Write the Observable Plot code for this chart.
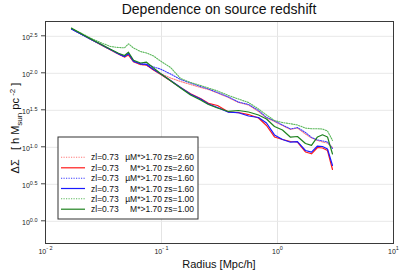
<!DOCTYPE html>
<html>
<head>
<meta charset="utf-8">
<script src="https://cdn.jsdelivr.net/npm/d3@7"></script>
<script src="https://cdn.jsdelivr.net/npm/@observablehq/plot@0.6"></script>
<style>
  html, body { margin: 0; padding: 0; background: #fff; }
  svg text { white-space: pre; }
</style>
</head>
<body>
<div id="chart"></div>
<script>
// ---- data ----
const radius = [0.01675, 0.0200, 0.0244, 0.0298, 0.0363, 0.0426, 0.0480, 0.0519, 0.0574, 0.0659,
  0.0743, 0.0854, 0.0980, 0.1197, 0.146, 0.178, 0.217, 0.254, 0.304, 0.378,
  0.461, 0.563, 0.686, 0.804, 0.942, 1.104, 1.294, 1.486, 1.742, 1.963,
  2.213, 2.443, 2.698, 2.979];

const redDotted = [398, 343, 289, 244, 207, 181, 165, 176, 143, 131,
  128, 111.5, 99.4, 86.4, 77.5, 70.6, 64.3, 60.4, 54.2, 47.1,
  40.3, 37.3, 30.5, 24.9, 22.3, 19.7, 17.4, 18.2, 15.1, 13.4,
  12.4, 11.79, 11.43, 9.94];
const redSolid = [399, 344, 290, 245, 208, 182, 166, 178, 144, 132,
  129.5, 111, 96.9, 79.2, 64.3, 52.8, 45.6, 39.3, 36.7, 30.0,
  29.5, 27.7, 24.9, 19.7, 13.8, 12.75, 11.98, 11.79, 8.64, 8.17,
  9.94, 9.78, 9.05, 5.01];
const blueDotted = [396, 342, 289, 246, 209, 183, 168, 184, 145, 134,
  133.6, 121.7, 114.3, 97.8, 82.5, 73.9, 66.3, 61.4, 55.0, 47.8,
  40.9, 37.9, 31.4, 25.3, 22.7, 20.0, 17.7, 18.5, 15.85, 13.6,
  12.55, 12.2, 11.79, 9.63];
const blueSolid = [396.8, 342.9, 290, 246.5, 209.7, 184.0, 168.7, 185.2, 145.7, 134.4,
  131.5, 112.6, 98.4, 79.9, 64.3, 52.2, 44.9, 38.5, 34.5, 29.8,
  29.3, 26.5, 25.3, 21.3, 14.7, 12.75, 11.72, 11.9, 9.05, 8.59,
  10.4, 10.25, 9.48, 5.68];
const greenDotted = [409.4, 352.6, 299.9, 260.8, 230.2, 223.1, 221.1, 250.4, 219.8, 197.0,
  188.1, 171.3, 146.6, 119.8, 85.1, 75.1, 68.4, 63.3, 57.7, 50.1,
  44.9, 40.3, 32.9, 27.3, 23.0, 21.6, 20.8, 20.0, 18.2, 17.8,
  17.8, 17.7, 16.6, 12.4];
const greenSolid = [405.6, 348.3, 293.5, 248.8, 211.7, 186.9, 174.0, 192.8, 149.9, 137.8,
  141.3, 117.9, 99.4, 79.2, 63.3, 50.9, 43.6, 37.9, 34.0, 30.5,
  31.4, 30.0, 27.3, 24.1, 19.1, 17.1, 13.7, 14.0, 11.26, 10.6,
  13.8, 14.75, 13.8, 8.12];

const lensLabel = "zl=0.73";
const massLabels = ["\u00b5M*>1.70", "M*>1.70", "\u00b5M*>1.70", "M*>1.70", "\u00b5M*>1.70", "M*>1.70"];
const sourceLabels = ["zs=2.60", "zs=2.60", "zs=1.60", "zs=1.60", "zs=1.00", "zs=1.00"];

const xTicks = [0.01, 0.1, 1, 10];
const xTickExponents = ["-2", "-1", "0", "1"];
const yTickExponents = [0, 0.5, 1, 1.5, 2, 2.5];
const yTickExponentLabels = ["0.0", "0.5", "1.0", "1.5", "2.0", "2.5"];

const titleText = "Dependence on source redshift";
const xLabelText = "Radius [Mpc/h]";

// ---- series styling ----
const seriesValues = [redDotted, redSolid, blueDotted, blueSolid, greenDotted, greenSolid];
const styles = [
  {stroke: "#ff7a7a", dash: "1.2,1.3", width: 1.1},
  {stroke: "#ff1a1a", dash: null, width: 1.2},
  {stroke: "#3c3cff", dash: "1.2,1.3", width: 1.1},
  {stroke: "#1a1aff", dash: null, width: 1.2},
  {stroke: "#5cb85c", dash: "1.2,1.3", width: 1.1},
  {stroke: "#1e821e", dash: null, width: 1.2}
];

const tables = seriesValues.map((vals, s) => radius.map((r, i) => ({r, v: vals[i], s})));
const yTicks = yTickExponents.map(e => Math.pow(10, e));

const lineMarks = tables.map((t, s) => Plot.line(t, {
  x: "r", y: "v",
  stroke: styles[s].stroke,
  strokeWidth: styles[s].width,
  strokeDasharray: styles[s].dash || undefined
}));

const chart = Plot.plot({
  width: 407, height: 271,
  marginLeft: 45, marginRight: 14, marginTop: 21, marginBottom: 28,
  style: {fontFamily: "'Liberation Sans', Arial, sans-serif", fontSize: "7px", background: "#fff", color: "#222"},
  x: {type: "log", domain: [0.01, 10], axis: null},
  y: {type: "log", domain: [Math.pow(10, -0.3), Math.pow(10, 2.7)], axis: null},
  marks: [
    Plot.gridX(xTicks, {stroke: "#e4e4e4", strokeOpacity: 1}),
    Plot.gridY(yTicks, {stroke: "#e8e8e8", strokeOpacity: 1}),
    ...lineMarks,
    Plot.frame({stroke: "#3a3a3a", strokeWidth: 1}),
    Plot.text(xTicks, {x: d => d, frameAnchor: "bottom", dy: 10, fill: "#222",
      text: (d, i) => "10^" + xTickExponents[i]}),
    Plot.text(yTicks, {y: d => d, frameAnchor: "left", dx: -8, dy: 1, textAnchor: "end", fill: "#222",
      text: (d, i) => "10^" + yTickExponentLabels[i]})
  ]
});

document.getElementById("chart").appendChild(chart);
const svg = d3.select(chart);

// short outward tick marks on the left edge
const yScale = chart.scale("y");
const tickG = svg.append("g").attr("stroke", "#444");
yTicks.forEach(v => {
  const y = yScale.apply(v);
  tickG.append("line").attr("x1", 41).attr("x2", 45).attr("y1", y).attr("y2", y);
});

// superscript tick labels
svg.selectAll("text").each(function() {
  const t = d3.select(this);
  const parts = t.text().split("^");
  if (parts.length < 2) return;
  t.text("");
  t.append("tspan").text(parts[0]);
  t.append("tspan").attr("dy", "-0.55em").attr("font-size", "5.5px")
    .text(parts[1].replace("-", "- ").replace("\u2212", "- "));
});

// title
svg.append("text").attr("x", 219).attr("y", 14).attr("text-anchor", "middle")
  .attr("font-size", 14).attr("fill", "#111").text(titleText);

// x label
svg.append("text").attr("x", 219).attr("y", 268).attr("text-anchor", "middle")
  .attr("font-size", 11).attr("fill", "#111").text(xLabelText);

// y label
const yl = svg.append("text").attr("transform", "translate(19,128) rotate(-90)")
  .attr("text-anchor", "middle").attr("font-size", 11).attr("fill", "#111");
yl.append("tspan").text("\u0394\u03a3   [ h M");
yl.append("tspan").attr("dy", 3).attr("font-size", 8).text("sun");
yl.append("tspan").attr("dy", -3).text(" pc");
yl.append("tspan").attr("dy", -4).attr("font-size", 8).text(" -2");
yl.append("tspan").attr("dy", 4).text(" ]");

// legend
const lg = svg.append("g");
lg.append("rect").attr("x", 58).attr("y", 137).attr("width", 140).attr("height", 82)
  .attr("fill", "#fff").attr("stroke", "#333").attr("stroke-width", 1);
const rowY = [157.3, 167.8, 178.2, 188.5, 198.7, 209.2];
styles.forEach((st, i) => {
  const y = rowY[i];
  lg.append("line").attr("x1", 61).attr("x2", 85).attr("y1", y).attr("y2", y)
    .attr("stroke", st.stroke).attr("stroke-width", st.width)
    .attr("stroke-dasharray", st.dash);
  const ty = y + 3;
  lg.append("text").attr("x", 91).attr("y", ty).attr("text-anchor", "start").attr("font-size", 8.5).attr("fill", "#111").text(lensLabel);
  lg.append("text").attr("x", 162).attr("y", ty).attr("text-anchor", "end").attr("font-size", 8.5).attr("fill", "#111").text(massLabels[i]);
  lg.append("text").attr("x", 164).attr("y", ty).attr("text-anchor", "start").attr("font-size", 8.5).attr("fill", "#111").text(sourceLabels[i]);
});
</script>
</body>
</html>
